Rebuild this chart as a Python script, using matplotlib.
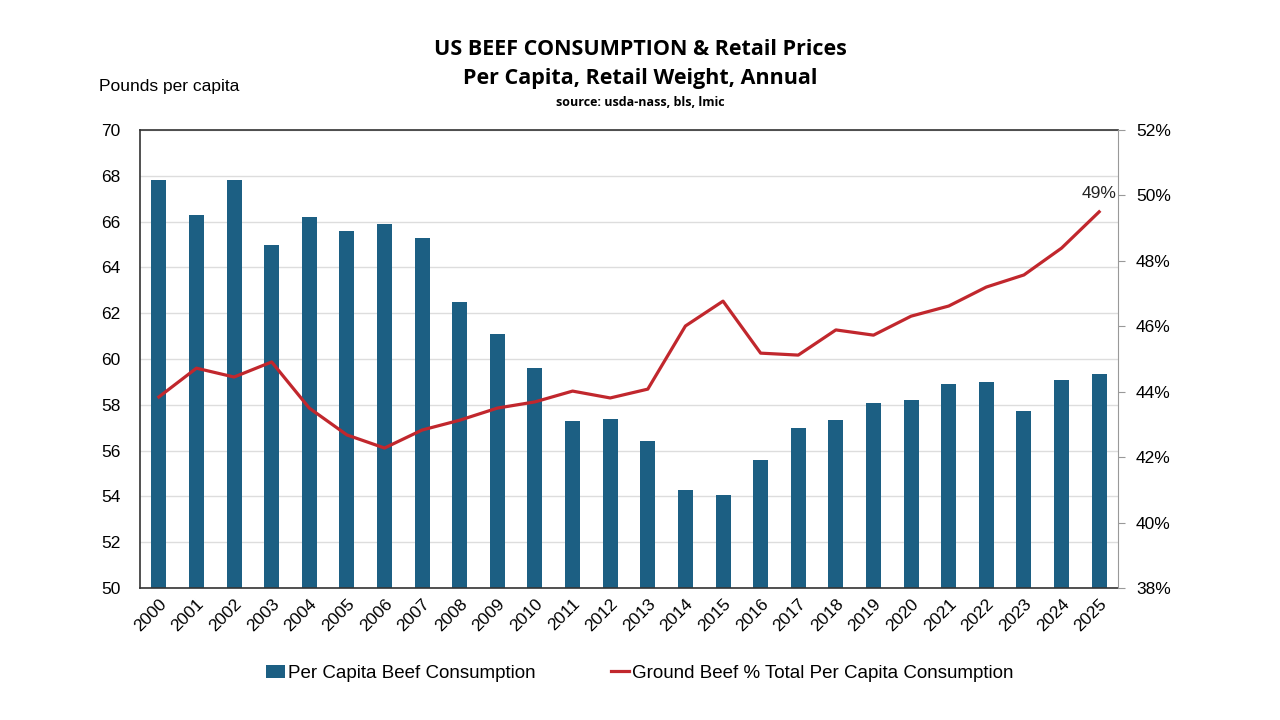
import matplotlib.pyplot as plt
import numpy as np

# data
years = [str(y) for y in range(2000, 2026)]
consumption = [67.8, 66.3, 67.8, 65.0, 66.2, 65.6, 65.9, 65.3, 62.5, 61.1,
               59.6, 57.3, 57.4, 56.4, 54.3, 54.05, 55.6, 57.0, 57.35, 58.1,
               58.2, 58.9, 59.0, 57.75, 59.1, 59.35]
ground_share = [43.84, 44.72, 44.45, 44.91, 43.5, 42.68, 42.28, 42.83, 43.13, 43.5,
                43.69, 44.02, 43.81, 44.08, 46.01, 46.77, 45.18, 45.12, 45.89, 45.73,
                46.31, 46.62, 47.2, 47.57, 48.39, 49.5]

bar_color = '#1c5f83'
line_color = '#c1272d'

plt.rcParams['font.family'] = ['Liberation Sans', 'DejaVu Sans']

fig = plt.figure(figsize=(12.8, 7.2), dpi=100)
ax = fig.add_axes([0.1094, 0.1833, 0.7640, 0.6361])
x = np.arange(len(years))

bars = ax.bar(x, consumption, width=0.4, color=bar_color, zorder=2,
              label='Per Capita Beef Consumption')
ax.set_ylim(50, 70)
ax.set_yticks(np.arange(50, 71, 2))
ax.set_xlim(-0.5, len(years) - 0.5)
ax.set_xticks(x)
ax.set_xticklabels(years, rotation=45, ha='right', rotation_mode='anchor', fontsize=12.5)
ax.tick_params(axis='y', length=0, labelsize=12.5, pad=14)
ax.tick_params(axis='x', length=0, pad=6)
ax.grid(axis='y', color='#dddddd', linewidth=1, zorder=0)
ax.set_axisbelow(True)
for s in ['left', 'top', 'bottom']:
    ax.spines[s].set_color('#333333')
    ax.spines[s].set_linewidth(1.2)
ax.spines['right'].set_visible(False)

ax2 = ax.twinx()
line, = ax2.plot(x, ground_share, color=line_color, linewidth=2.3, zorder=3,
                 label='Ground Beef % Total Per Capita Consumption')
ax2.set_ylim(38, 52)
ax2.set_yticks(np.arange(38, 53, 2))
ax2.set_yticklabels([f'{v}%' for v in range(38, 53, 2)])
ax2.tick_params(axis='y', length=5, color='#999999', labelsize=12.5, pad=8)
ax2.spines['right'].set_color('#999999')
for s in ['left', 'top', 'bottom']:
    ax2.spines[s].set_visible(False)

ax2.annotate('49%', (x[-1], ground_share[-1]), xytext=(0, 8),
             textcoords='offset points', ha='center', va='bottom', fontsize=12.5,
             color='#222222')

title_font = ['Open Sans', 'DejaVu Sans']
fig.text(0.5, 0.923, 'US BEEF CONSUMPTION & Retail Prices', ha='center',
         fontsize=15.5, fontweight='bold', family=title_font)
fig.text(0.5, 0.884, 'Per Capita, Retail Weight, Annual', ha='center',
         fontsize=15.5, fontweight='bold', family=title_font)
fig.text(0.5, 0.853, 'source: usda-nass, bls, lmic', ha='center',
         fontsize=9, fontweight='bold', family=title_font)
fig.text(0.077, 0.874, 'Pounds per capita', ha='left', fontsize=12.5)

fig.legend([bars, line], [bars.get_label(), line.get_label()], loc='center',
           bbox_to_anchor=(0.5, 0.065), ncol=2, frameon=False,
           handlelength=1.0, handletextpad=0.15, columnspacing=4.0,
           prop={'family': ['Liberation Sans Narrow', 'Liberation Sans'], 'size': 13.5})

fig.savefig('out.png', dpi=100)
